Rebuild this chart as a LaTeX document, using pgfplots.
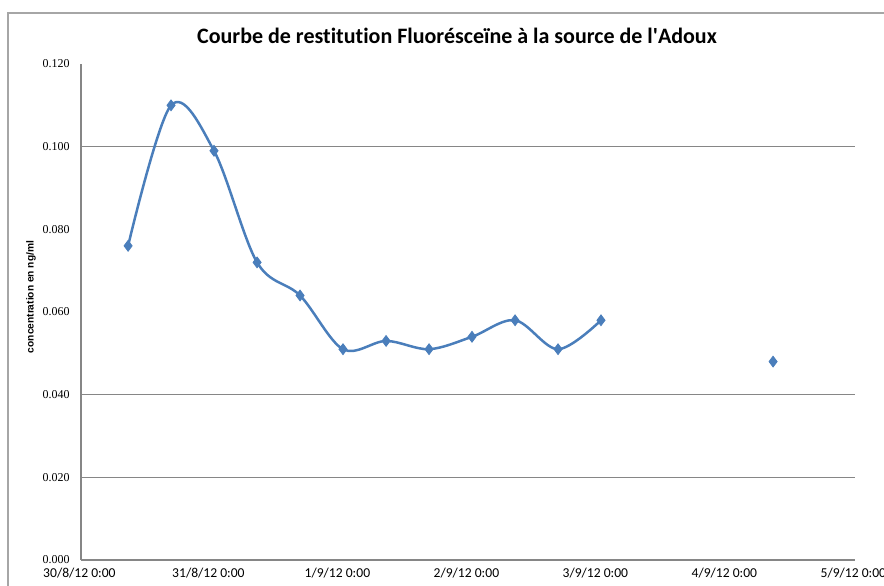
\documentclass[border=0pt]{standalone}
\usepackage{pgfplots}
\pgfplotsset{compat=1.18}
\usepackage{fontspec}
\setmainfont{Carlito}[Ligatures={NoCommon}]
\newfontfamily\serifnum{Liberation Serif}
\newfontfamily\arialf{Liberation Sans}
\definecolor{xlblue}{HTML}{4A7EBB}
\definecolor{gridgray}{HTML}{868686}
\begin{document}
\begin{tikzpicture}
\begin{axis}[
  at={(40.5pt,12.5pt)}, anchor=south west,
  scale only axis, width=387pt, height=248pt,
  xmin=0, xmax=6, ymin=0, ymax=0.12,
  axis x line*=bottom, axis y line*=left,
  axis line style={-, color=gridgray, line width=0.6pt},
  xtick={0,1,2,3,4,5,6},
  xticklabels={30/8/12 0:00,31/8/12 0:00,1/9/12 0:00,2/9/12 0:00,3/9/12 0:00,4/9/12 0:00,5/9/12 0:00},
  ytick={0,0.02,0.04,0.06,0.08,0.1,0.12},
  yticklabels={0.000,0.020,0.040,0.060,0.080,0.100,0.120},
  major tick length=0pt,
  xticklabel style={font=\fontsize{6.8}{8}\selectfont, anchor=north, inner sep=0pt, yshift=-4pt, xshift=-0.8pt},
  yticklabel style={font=\serifnum\fontsize{6}{7}\selectfont, anchor=east, inner sep=0pt, xshift=-5.5pt},
  extra y ticks={0.02,0.04,0.1},
  extra y tick labels={},
  extra y tick style={grid=major, major tick length=0pt},
  major grid style={color=gridgray, line width=0.6pt},
  clip=false,
]
\addplot[color=xlblue, line width=1.25pt, smooth, tension=0.55, mark=diamond*, mark size=2.7pt, mark options={fill=xlblue, draw=xlblue, line width=0.4pt}]
coordinates {
(0.365,0.076) (0.698,0.110) (1.031,0.099) (1.365,0.072) (1.698,0.064) (2.031,0.051)
(2.365,0.053) (2.698,0.051) (3.031,0.054) (3.365,0.058) (3.698,0.051) (4.031,0.058)
};
\addplot[only marks, mark=diamond*, mark size=2.7pt, mark options={fill=xlblue, draw=xlblue, line width=0.4pt}]
coordinates {(5.365,0.048)};
\end{axis}
\node[font=\bfseries\fontsize{11}{13}\selectfont] at (228.5pt,274.5pt) {Courbe de restitution Fluorésceïne à la source de l\textquotesingle Adoux};
\node[rotate=90, font=\arialf\bfseries\fontsize{5.1}{6}\selectfont] at (15.5pt,144pt) {concentration en ng/ml};
\draw[color=gray!70, line width=0.7pt] (4pt,-10pt) -- (4pt,286pt) -- (460pt,286pt);
\pgfresetboundingbox
\useasboundingbox (0,0) rectangle (442pt,292.5pt);
\end{tikzpicture}
\end{document}
